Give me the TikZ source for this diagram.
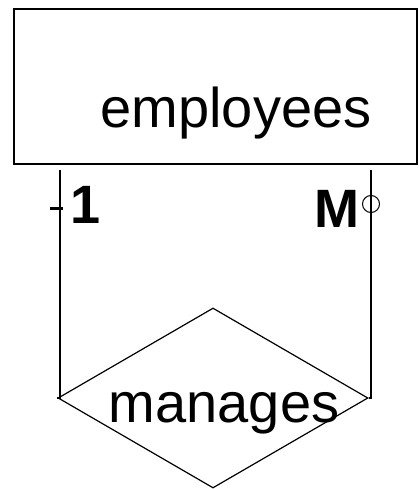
\documentclass[tikz,border=0pt]{standalone}
\usepackage{fontspec}
\setmainfont{Liberation Sans}
\usetikzlibrary{shapes.geometric}
\begin{document}
\begin{tikzpicture}[x=1pt,y=-1pt,
  entbox/.style={draw,line width=2.2pt,rectangle,inner sep=0pt},
  relbox/.style={draw,line width=1.2pt,diamond,inner sep=0pt,minimum width=310pt,minimum height=180pt},
  conn/.style={line width=1.6pt},
  big/.style={font=\fontsize{56}{60}\selectfont,inner sep=0pt},
  card/.style={font=\fontsize{54}{60}\selectfont\bfseries,inner sep=0pt,anchor=base west}]
\useasboundingbox (0,0) rectangle (418,489);
\node[entbox,minimum width=403pt,minimum height=155pt] (emp) at (215.5,86.5) {};
\node[big,anchor=base] (empl) at (236,128) {employees};
\node[relbox] (man) at (213,398) {};
\node[big,anchor=base] (manl) at (224,422) {manages};
\coordinate (l1) at (60,170);
\coordinate (r1) at (371,170);
\draw[conn] (l1) -- (l1 |- man.west) -- (man.west);
\draw[conn] (r1) -- (r1 |- man.east) -- (man.east);
\coordinate (t1) at (50,208);
\draw[line width=3pt] (t1) -- ++(13,0);
\node[card] (one) at (70,223) {1};
\node[card] (many) at (314,227) {M};
\node[draw,circle,line width=1pt,minimum size=17pt,inner sep=0pt] (opt) at (371,204) {};
\end{tikzpicture}
\end{document}
